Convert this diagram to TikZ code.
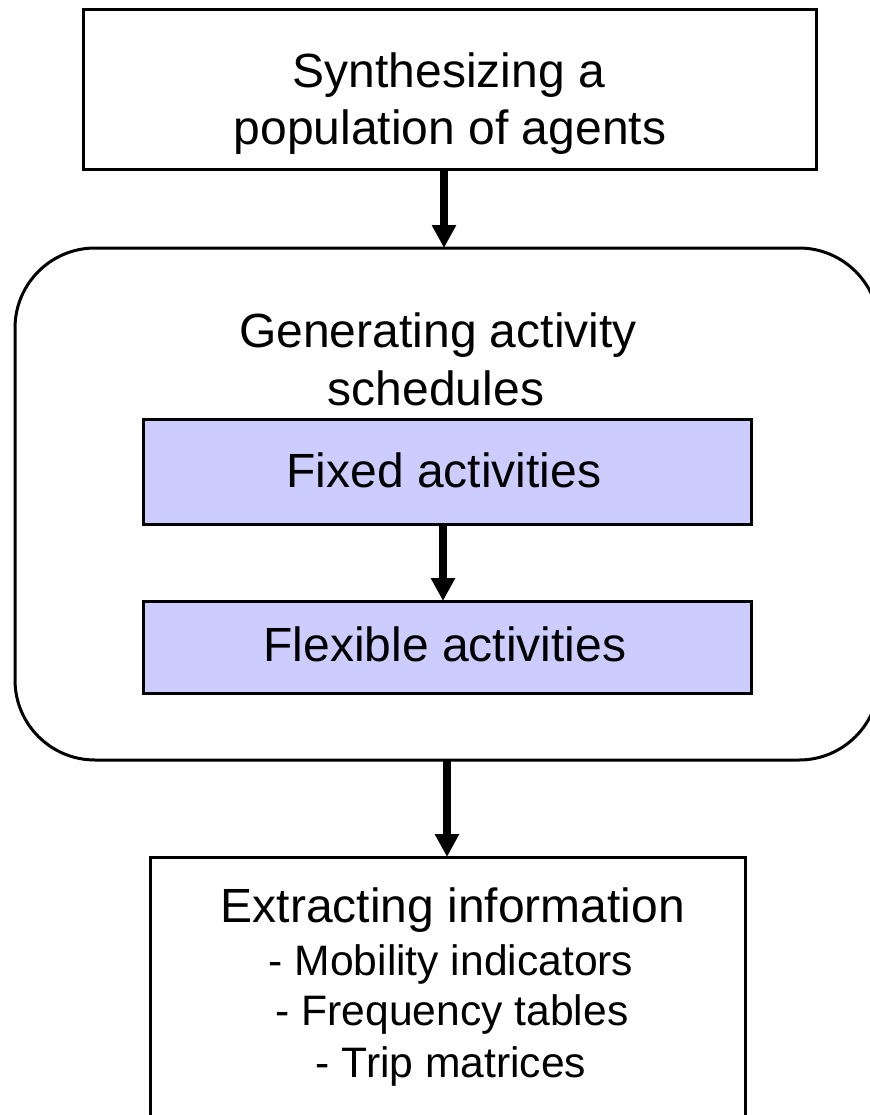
\documentclass[tikz,border=0pt]{standalone}
\usepackage{fontspec}
\setmainfont{Liberation Sans}
\usetikzlibrary{arrows.meta}
\definecolor{boxblue}{HTML}{CCCCFF}
\tikzset{
  box/.style={draw, line width=1.5pt, inner sep=0pt, outer sep=0pt},
  innerbox/.style={box, fill=boxblue},
  arr/.style={line width=4pt, -{Triangle[width=11.5pt,length=11.5pt]}},
  big/.style={inner sep=0pt, anchor=base, font=\fontsize{24}{28}\selectfont},
  small/.style={inner sep=0pt, anchor=base, font=\fontsize{21.3}{25}\selectfont}
}
\begin{document}
\begin{tikzpicture}[x=0.5pt,y=-0.5pt]
\useasboundingbox (0,0) rectangle (869,1115);
% boxes
\node[box, minimum width=366.5pt, minimum height=80pt] (top) at (449.5,89) {};
\node[box, rounded corners=40pt, minimum width=432pt, minimum height=256pt] (mid) at (447,504) {};
\node[innerbox, minimum width=304pt, minimum height=52.5pt] (fixed) at (447,471.5) {};
\node[innerbox, minimum width=304pt, minimum height=46pt] (flex) at (447,647) {};
\node[box, minimum width=297.5pt, minimum height=141.5pt] (bot) at (447.5,998.5) {};
% arrow columns
\coordinate (c1) at (444,0);
\coordinate (c2) at (443,0);
\coordinate (c3) at (447,0);
\draw[arr] (c1 |- top.south) -- (c1 |- mid.north);
\draw[arr] (c2 |- fixed.south) -- (c2 |- flex.north);
\draw[arr] (c3 |- mid.south) -- (c3 |- bot.north);
% texts
\node[big] (t1) at (449,87) {Synthesizing a};
\node[big] (t2) at (450,144) {population of agents};
\node[big] (g1) at (438,347) {Generating activity};
\node[big] (g2) at (436,405) {schedules};
\node[big] (f1) at (444,487) {Fixed activities};
\node[big] (f2) at (445,661) {Flexible activities};
\node[big] (e1) at (453,922) {Extracting information};
\node[small] (e2) at (451,975) {- Mobility indicators};
\node[small] (e3) at (452,1025) {- Frequency tables};
\node[small] (e4) at (451,1077) {- Trip matrices};
\end{tikzpicture}
\end{document}
